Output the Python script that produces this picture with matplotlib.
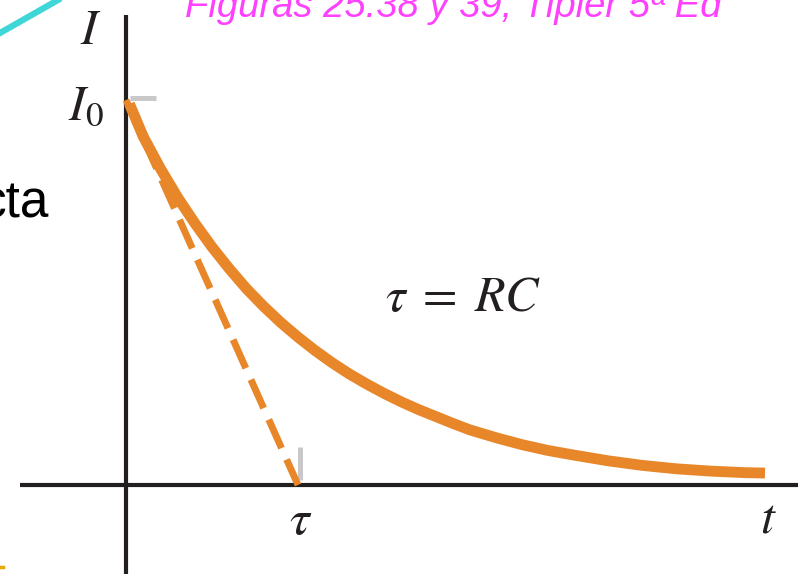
import matplotlib
matplotlib.use("Agg")
import matplotlib.pyplot as plt
from matplotlib.lines import Line2D

plt.rcParams["mathtext.fontset"] = "stix"

# Discharge current I/I0 versus time t/tau
t_vals = [0.02, 0.10, 0.20, 0.30, 0.40, 0.50, 0.60, 0.70, 0.80, 0.90,
          1.00, 1.10, 1.20, 1.30, 1.40, 1.50, 1.60, 1.70, 1.80, 1.90,
          2.00, 2.15, 2.30, 2.45, 2.60, 2.80, 3.00, 3.20, 3.40, 3.60, 3.715]
i_vals = [0.990, 0.905, 0.822, 0.747, 0.680, 0.618, 0.562, 0.510, 0.464,
          0.422, 0.384, 0.349, 0.317, 0.288, 0.262, 0.238, 0.216, 0.196,
          0.178, 0.160, 0.143, 0.123, 0.105, 0.090, 0.078, 0.063, 0.051,
          0.042, 0.036, 0.032, 0.031]

# Initial tangent: from I0 at t=0 down to zero at t=tau
tangent_t = [0.0, 1.0]
tangent_i = [1.0, 0.0]

# Reference marks on the axes
i0_tick_t = [0.023, 0.174]
i0_tick_i = [1.005, 1.005]
tau_tick_t = [1.012, 1.012]
tau_tick_i = [0.099, 0.013]

ORANGE = "#E8862A"
AXIS = "#231F20"
GRAY = "#C8C8CA"

fig = plt.figure(figsize=(7.98, 5.74), dpi=100)
ax = fig.add_axes([0, 0, 1, 1])
ax.set_xlim(-0.7326, 3.907)
ax.set_ylim(-0.2312, 1.2597)
ax.axis("off")

# Coordinate axes
ax.plot([-0.616, 4.0], [0, 0], color=AXIS, lw=3.0, solid_capstyle="butt", zorder=2)
ax.plot([0, 0], [-0.3, 1.221], color=AXIS, lw=3.0, solid_capstyle="butt", zorder=2)

# Gray reference ticks
ax.plot(i0_tick_t, i0_tick_i, color=GRAY, lw=3.6, solid_capstyle="butt", zorder=1)
ax.plot(tau_tick_t, tau_tick_i, color=GRAY, lw=3.6, solid_capstyle="butt", zorder=1)

# Tangent (dashed) and exponential decay curve
ax.plot(tangent_t, tangent_i, color=ORANGE, lw=5.0, dashes=(4.5, 1.8),
        dash_capstyle="butt", zorder=3)
ax.plot(t_vals, i_vals, color=ORANGE, lw=7.8, solid_capstyle="butt",
        solid_joinstyle="round", zorder=4)

# Labels
lab_kw = dict(color=AXIS, fontsize=36)
ax.text(-0.203, 1.182, r"$I$", ha="center", va="center", **lab_kw)
ax.text(-0.128, 0.985, r"$I_0$", ha="right", va="center", **lab_kw)
ax.text(1.017, -0.091, r"$\tau$", ha="center", va="center", **lab_kw)
ax.text(3.733, -0.086, r"$t$", ha="center", va="center", **lab_kw)
ax.text(1.959, 0.488, r"$\tau\;=\;RC$", ha="center", va="center", **lab_kw)

# Slide decorations around the figure
fig.text(185 / 798, 1 - 17 / 574, "Figuras 25.38 y 39, Tipler 5ª Ed",
         color="#FF40FF", fontsize=27.5, style="italic",
         family=["Liberation Sans", "DejaVu Sans"], ha="left", va="baseline")
fig.text(49 / 798, 1 - 218 / 574, "cta", color="black", fontsize=37,
         family=["Liberation Sans", "DejaVu Sans"],
         ha="right", va="baseline")
fig.add_artist(Line2D([0, 58 / 798], [1 - 33 / 574, 1.0], color="#3ED6D6",
                      lw=4.5, transform=fig.transFigure))
fig.add_artist(Line2D([0, 3 / 798], [1 - 567 / 574, 1 - 567 / 574],
                      color="#E8A800", lw=2.5, transform=fig.transFigure))

fig.savefig("out.png", dpi=100)
